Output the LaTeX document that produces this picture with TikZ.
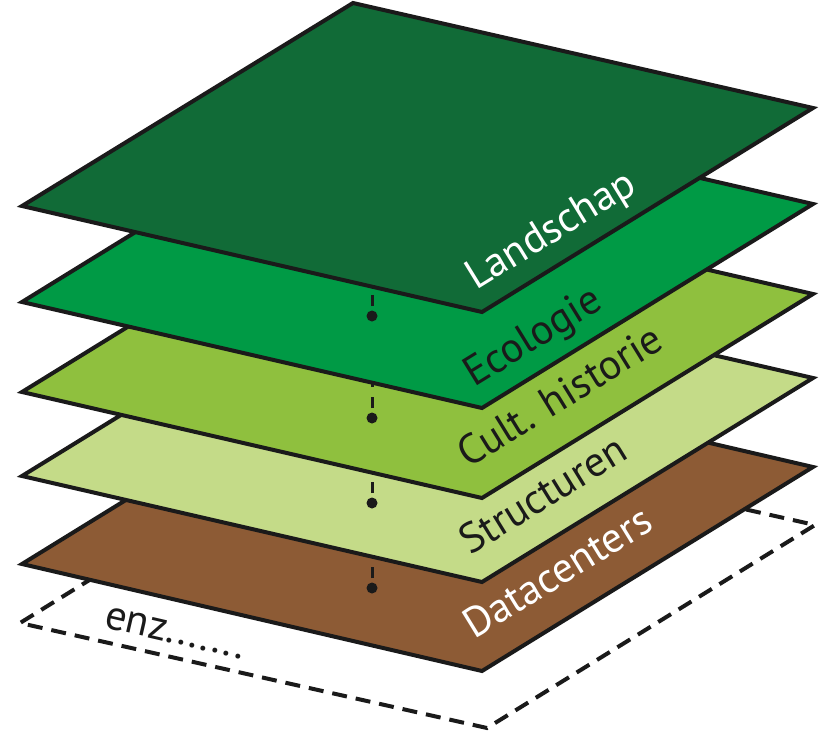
\documentclass[tikz,border=0pt]{standalone}
\usepackage{fontspec}
\setmainfont{PT Sans}
\definecolor{landc}{RGB}{17,107,55}
\definecolor{ecoc}{RGB}{0,154,69}
\definecolor{cultc}{RGB}{143,192,62}
\definecolor{strucc}{RGB}{196,219,136}
\definecolor{datac}{RGB}{141,91,53}
\definecolor{inkc}{RGB}{26,26,26}
\begin{document}
\begin{tikzpicture}[x=1pt,y=-1pt,
  layerbox/.style={draw=inkc,line width=4pt,line join=miter},
  dashbox/.style={draw=inkc,line width=4pt,dash pattern=on 15pt off 9pt,line join=miter},
  lbl/.style={anchor=base west,inner sep=0pt,rotate=31.6,font=\fontsize{42}{42}\selectfont},
  pinline/.style={draw=inkc,line width=3pt,dash pattern=on 11pt off 10pt,dash phase=11pt},
  pindot/.style={circle,fill=inkc,inner sep=0pt,minimum size=11pt}]
\useasboundingbox (0,0) rectangle (820,734);

% dashed base layer
\coordinate (dL) at (20,623);
\coordinate (dB) at (487,728);
\coordinate (dR) at (815,525);
\coordinate (dT) at (348,420);
\draw[dashbox] (dT) -- (dR) -- (dB) -- (dL) -- cycle;
\node[anchor=base west,inner sep=0pt,rotate=-13,font=\fontsize{42}{42}\selectfont,text=inkc] (enz) at (103,627) {enz.......};

% Datacenters
\filldraw[layerbox,fill=datac] (353,360) -- (813,467) coordinate (aR) -- (482,671) coordinate (aB) -- (22,564) coordinate (aL) -- cycle;
\node[pindot] (pa) at (372,588) {};
\coordinate (pat) at (372,530);
\draw[pinline] (pa.center) -- (pat);
\node[lbl,text=white] (tdata) at (474,640) {Datacenters};

% Structuren
\filldraw[layerbox,fill=strucc] (353,272) -- (813,378) coordinate (sR) -- (482,582) coordinate (sB) -- (22,476) coordinate (sL) -- cycle;
\node[pindot] (ps) at (372,503) {};
\coordinate (pst) at (372,445);
\draw[pinline] (ps.center) -- (pst);
\node[lbl,text=inkc] (tstruc) at (470,556) {Structuren};

% Cult. historie
\filldraw[layerbox,fill=cultc] (353,188) -- (813,294) coordinate (cR) -- (482,498) coordinate (cB) -- (22,392) coordinate (cL) -- cycle;
\node[pindot] (pc) at (372,418) {};
\coordinate (pct) at (372,360);
\draw[pinline] (pc.center) -- (pct);
\node[lbl,text=inkc] (tcult) at (468,469) {Cult. historie};

% Ecologie
\filldraw[layerbox,fill=ecoc] (353,98) -- (813,204) coordinate (eR) -- (482,408) coordinate (eB) -- (22,302) coordinate (eL) -- cycle;
\node[pindot] (pe) at (372,316) {};
\coordinate (pet) at (372,258);
\draw[pinline] (pe.center) -- (pet);
\node[lbl,text=inkc] (teco) at (474,388) {Ecologie};

% Landschap
\filldraw[layerbox,fill=landc] (353,3) -- (813,108) coordinate (lR) -- (482,312) coordinate (lB) -- (22,206) coordinate (lL) -- cycle;
\node[lbl,text=white] (tland) at (476,291) {Landschap};
\end{tikzpicture}
\end{document}
